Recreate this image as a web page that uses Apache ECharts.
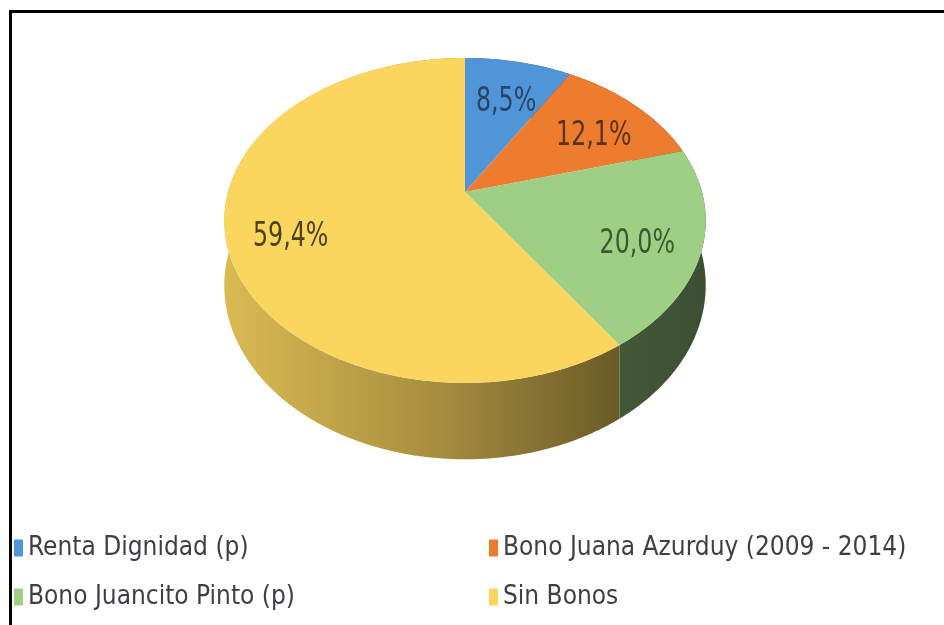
<!DOCTYPE html>
<html><head><meta charset="utf-8">
<script src="https://cdn.jsdelivr.net/npm/echarts@6/dist/echarts.min.js"></script>
<style>
html,body{margin:0;padding:0;background:#fff;overflow:hidden;}
#chart{position:absolute;left:0;top:0;width:944px;height:625px;}
#frame{position:absolute;left:9px;top:10px;width:950px;height:630px;border-left:3px solid #000;border-top:3px solid #000;pointer-events:none;}
</style></head><body>
<div id="chart"></div><div id="frame"></div>
<script>
// ---- data ----
const categories = ['Renta Dignidad (p)', 'Bono Juana Azurduy (2009 - 2014)', 'Bono Juancito Pinto (p)', 'Sin Bonos'];
const shares = [8.5, 12.1, 20.0, 59.4];
const sliceColors = ['#4f95d8', '#ee7c2f', '#9fcf84', '#fad65e'];
const labelColors = ['#2b4466', '#5a3216', '#3b5a30', '#4d401a'];
const legendCol1 = [categories[0], categories[2]];
const legendCol2 = [categories[1], categories[3]];

// ---- geometry of the tilted pie ----
const FONT = '"DejaVu Sans Condensed", "Liberation Sans Narrow", "Liberation Sans", Arial, sans-serif';
const CX = 465, CY = 192, A = 237, B = 157.5, K = 0.175, D0 = 63;
const total = shares.reduce((s, v) => s + v, 0);
const cum = [];
shares.reduce((s, v, i) => { cum[i] = s; return s + v; }, 0);

function proj(theta, r) {
  const u = r * Math.sin(theta), v = -r * Math.cos(theta);
  const s = 1 / (1 - K * v);
  return [CX + A * u * s, CY + B * v * s, s];
}
function shade(hex, f) {
  const n = parseInt(hex.slice(1), 16);
  const r = Math.round(((n >> 16) & 255) * f), g = Math.round(((n >> 8) & 255) * f), b = Math.round((n & 255) * f);
  return 'rgb(' + r + ',' + g + ',' + b + ')';
}

function renderItem(params, api) {
  const i = params.dataIndex;
  const val = api.value(0);
  const a0 = cum[i] / total * Math.PI * 2;
  const a1 = a0 + val / total * Math.PI * 2;
  const n = Math.max(8, Math.ceil((a1 - a0) / 0.01));
  const top = [], bot = [];
  for (let j = 0; j <= n; j++) {
    const t = a0 + (a1 - a0) * j / n;
    const p = proj(t, 1);
    top.push([p[0], p[1]]);
    bot.push([p[0], p[1] + D0 * p[2]]);
  }
  const base = sliceColors[i];
  const wallFill = new echarts.graphic.LinearGradient(226, 0, 703, 0, [
    { offset: 0, color: shade(base, 0.87) },
    { offset: 0.45, color: shade(base, 0.66) },
    { offset: 0.81, color: shade(base, 0.43) },
    { offset: 1, color: shade(base, 0.38) }
  ], true);
  const c = proj(0, 0);
  const mid = (a0 + a1) / 2;
  const lp = proj(mid, 0.74);
  return {
    type: 'group',
    children: [
      { type: 'polygon', z2: 1, shape: { points: top.concat(bot.slice().reverse()) }, style: { fill: wallFill } },
      { type: 'polygon', z2: 10, shape: { points: [[c[0], c[1]]].concat(top) }, style: { fill: base } },
      { type: 'text', z2: 20, x: lp[0], y: lp[1] + 10, scaleX: 0.8,
        style: { text: val.toFixed(1).replace('.', ',') + '%', fill: labelColors[i],
          font: '33px ' + FONT, fontSize: 33, fontFamily: FONT,
          textAlign: 'center', textVerticalAlign: 'middle', align: 'center', verticalAlign: 'middle' } }
    ]
  };
}

const chart = echarts.init(document.getElementById('chart'));
const legendText = { fontFamily: FONT, fontSize: 26, color: '#3e3e44' };
chart.setOption({
  animation: false,
  backgroundColor: '#ffffff',
  legend: [
    { data: legendCol1, orient: 'vertical', left: 14, top: 535, icon: 'rect', itemWidth: 9, itemHeight: 17,
      itemGap: 23, textStyle: legendText, selectedMode: false, padding: 0 },
    { data: legendCol2, orient: 'vertical', left: 489, top: 535, icon: 'rect', itemWidth: 9, itemHeight: 17,
      itemGap: 23, textStyle: legendText, selectedMode: false, padding: 0 }
  ],
  series: [
    { type: 'pie', radius: 0, center: [CX, CY], silent: true, label: { show: false }, labelLine: { show: false },
      data: categories.map((name, i) => ({ name, value: shares[i], itemStyle: { color: sliceColors[i] } })) },
    { type: 'custom', coordinateSystem: 'none', silent: true, renderItem,
      data: shares.map((v, i) => ({ name: categories[i], value: [v] })) }
  ]
});
</script>
</body></html>
